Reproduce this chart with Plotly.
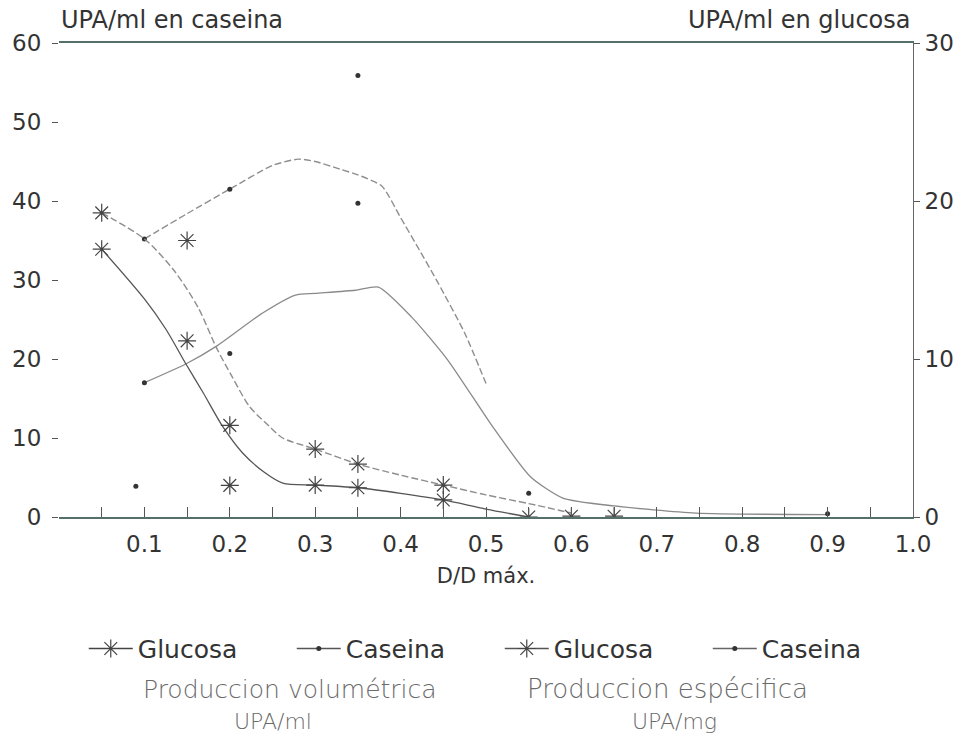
import plotly.graph_objects as go

# ---- measured points (D/D max) ----
# Glucosa, producción volumétrica (right axis, UPA/ml)
glc_vol_x = [0.05, 0.15, 0.20, 0.30, 0.35, 0.45, 0.55, 0.65]
glc_vol_y = [16.95, 11.15, 2.0, 2.02, 1.85, 1.08, 0.0, 0.05]
# Glucosa, producción específica (right axis)
glc_esp_x = [0.05, 0.15, 0.20, 0.30, 0.35, 0.45, 0.60]
glc_esp_y = [19.25, 17.5, 5.8, 4.3, 3.35, 2.02, 0.05]
# Caseina, producción volumétrica (left axis, UPA/ml)
cas_vol_x = [0.09, 0.10, 0.20, 0.35, 0.55, 0.90]
cas_vol_y = [3.9, 17.0, 20.7, 39.7, 3.0, 0.4]
# Caseina, producción específica (left axis)
cas_esp_x = [0.10, 0.20, 0.35]
cas_esp_y = [35.2, 41.5, 55.9]

# ---- smoothed fitted curves ----
glc_vol_fit_x = [0.05, 0.10, 0.125, 0.149, 0.169, 0.192, 0.215, 0.24, 0.262,
                 0.30, 0.35, 0.40, 0.45, 0.50, 0.55]
glc_vol_fit_y = [16.95, 13.8, 11.9, 9.65, 7.85, 5.7, 4.05, 2.85, 2.15,
                 2.02, 1.85, 1.5, 1.08, 0.5, 0.0]

glc_esp_fit_x = [0.05, 0.10, 0.134, 0.163, 0.184, 0.203, 0.223, 0.245, 0.262,
                 0.30, 0.35, 0.40, 0.45, 0.50, 0.55, 0.60]
glc_esp_fit_y = [19.25, 17.6, 15.65, 13.25, 10.75, 8.85, 7.0, 5.8, 5.0,
                 4.3, 3.35, 2.65, 2.02, 1.4, 0.85, 0.25]

cas_vol_fit_x = [0.10, 0.149, 0.184, 0.238, 0.277, 0.30, 0.347, 0.374, 0.413,
                 0.455, 0.508, 0.552, 0.59, 0.65, 0.746, 0.90]
cas_vol_fit_y = [17.0, 19.4, 21.6, 25.8, 28.1, 28.3, 28.7, 29.1, 25.3,
                 19.9, 11.4, 5.1, 2.4, 1.4, 0.5, 0.3]

cas_esp_fit_x = [0.10, 0.15, 0.20, 0.25, 0.28, 0.30, 0.33, 0.35, 0.378,
                 0.40, 0.422, 0.444, 0.475, 0.50]
cas_esp_fit_y = [35.2, 38.4, 41.5, 44.5, 45.3, 45.0, 44.0, 43.3, 41.9,
                 37.9, 33.8, 29.6, 23.3, 16.9]

# ---- axis ticks ----
x_tickvals = [0.1, 0.2, 0.3, 0.4, 0.5, 0.6, 0.7, 0.8, 0.9, 1.0]
x_ticktext = ["0.1", "0.2", "0.3", "0.4", "0.5", "0.6", "0.7", "0.8", "0.9", "1.0"]

FONT = "DejaVu Sans, Verdana, sans-serif"
TXT = "#333333"
SUB = "#6a6a6a"

star = dict(symbol="asterisk-open", size=15, color="#444444",
            line=dict(color="#444444", width=1.2))
dot = dict(symbol="circle", size=5, color="#333333")

fig = go.Figure()

# fitted curves
fig.add_trace(go.Scatter(x=glc_vol_fit_x, y=glc_vol_fit_y, yaxis="y2", mode="lines",
                         line=dict(color="#555555", width=1.3, shape="spline", smoothing=0.8),
                         showlegend=False, hoverinfo="skip"))
fig.add_trace(go.Scatter(x=glc_esp_fit_x, y=glc_esp_fit_y, yaxis="y2", mode="lines",
                         line=dict(color="#8e8e8e", width=1.4, shape="spline", smoothing=0.8,
                                   dash="7px,3px"),
                         showlegend=False, hoverinfo="skip"))
fig.add_trace(go.Scatter(x=cas_vol_fit_x, y=cas_vol_fit_y, mode="lines",
                         line=dict(color="#8a8a8a", width=1.3, shape="spline", smoothing=0.6),
                         showlegend=False, hoverinfo="skip"))
fig.add_trace(go.Scatter(x=cas_esp_fit_x, y=cas_esp_fit_y, mode="lines",
                         line=dict(color="#8e8e8e", width=1.4, shape="spline", smoothing=0.6,
                                   dash="7px,3px"),
                         showlegend=False, hoverinfo="skip"))

# measured points
fig.add_trace(go.Scatter(x=glc_vol_x, y=glc_vol_y, yaxis="y2", mode="markers",
                         marker=star, showlegend=False))
fig.add_trace(go.Scatter(x=glc_esp_x, y=glc_esp_y, yaxis="y2", mode="markers",
                         marker=star, showlegend=False))
fig.add_trace(go.Scatter(x=cas_vol_x, y=cas_vol_y, mode="markers",
                         marker=dot, showlegend=False))
fig.add_trace(go.Scatter(x=cas_esp_x, y=cas_esp_y, mode="markers",
                         marker=dot, showlegend=False))

# legend entries
legend_items = [
    ("Glucosa", star, "#444444"),
    ("Caseina", dot, "#555555"),
    ("Glucosa", star, "#555555"),
    ("Caseina", dot, "#666666"),
]
for name, mk, col in legend_items:
    fig.add_trace(go.Scatter(x=[None], y=[None], mode="lines+markers", name=name,
                             marker=mk, line=dict(color=col, width=1.6)))

fig.update_layout(
    width=966, height=745,
    margin=dict(l=55, r=51, t=43, b=228),
    paper_bgcolor="white", plot_bgcolor="white",
    font=dict(family=FONT, size=23, color=TXT),
    xaxis=dict(range=[0, 1.0], tickvals=x_tickvals, ticktext=x_ticktext,
               ticks="inside", ticklen=10, tickcolor="#555555", tickwidth=1,
               minor=dict(dtick=0.05, tick0=0, ticks="inside", ticklen=10,
                          tickcolor="#555555", tickwidth=1),
               showline=True, linecolor="#55706a", linewidth=1.5, mirror=True,
               showgrid=False, zeroline=False, ticklabelstandoff=6,
               title=dict(text="D/D máx.", font=dict(size=21), standoff=12)),
    yaxis=dict(range=[0, 60], dtick=10, ticks="outside", ticklen=6,
               tickcolor="#555555", showline=False, showgrid=False, zeroline=False,
               ticklabelstandoff=6),
    yaxis2=dict(range=[0, 30], dtick=10, overlaying="y", side="right",
                ticks="outside", ticklen=6, tickcolor="#555555",
                showline=True, linecolor="#666666", linewidth=1,
                showgrid=False, zeroline=False),
    legend=dict(orientation="h", x=0.029, xanchor="left", y=-0.278, yanchor="middle",
                font=dict(size=25, color=TXT), itemwidth=44,
                entrywidth=149, entrywidthmode="pixels",
                bgcolor="rgba(0,0,0,0)", tracegroupgap=0),
    showlegend=True,
)

annos = [
    dict(text="UPA/ml en caseina", x=0.0, y=1.048, xanchor="left", font=dict(size=24)),
    dict(text="UPA/ml en glucosa", x=1.0, y=1.048, xanchor="right", font=dict(size=24)),
    dict(text="Produccion volumétrica", x=0.271, y=-0.363, xanchor="center",
         font=dict(size=25, color=SUB, weight=300)),
    dict(text="UPA/ml", x=0.25, y=-0.432, xanchor="center",
         font=dict(size=22, color=SUB, weight=300)),
    dict(text="Produccion espécifica", x=0.712, y=-0.363, xanchor="center",
         font=dict(size=26, color=SUB, weight=300)),
    dict(text="UPA/mg", x=0.721, y=-0.432, xanchor="center",
         font=dict(size=22, color=SUB, weight=300)),
]
for a in annos:
    fig.add_annotation(xref="paper", yref="paper", showarrow=False, yanchor="middle", **a)

fig.write_html("out.html")
